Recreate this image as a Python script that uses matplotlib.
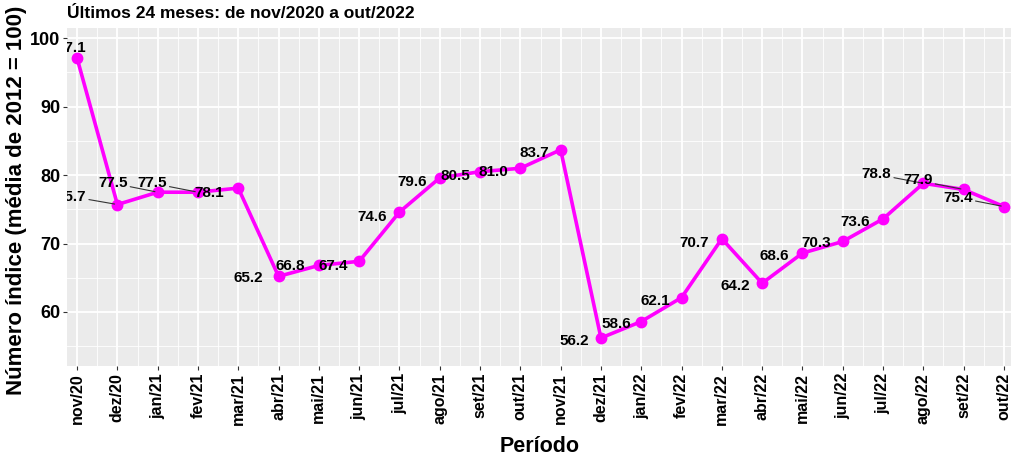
"""Número índice dos últimos 24 meses."""

import matplotlib

matplotlib.use("Agg")
from matplotlib import pyplot as plt  # noqa: E402
import numpy as np  # noqa: E402

periodos = [
    "nov/20", "dez/20", "jan/21", "fev/21", "mar/21", "abr/21", "mai/21", "jun/21",
    "jul/21", "ago/21", "set/21", "out/21", "nov/21", "dez/21", "jan/22", "fev/22",
    "mar/22", "abr/22", "mai/22", "jun/22", "jul/22", "ago/22", "set/22", "out/22",
]
indice = [
    97.1, 75.7, 77.5, 77.5, 78.1, 65.2, 66.8, 67.4, 74.6, 79.6, 80.5, 81.0,
    83.7, 56.2, 58.6, 62.1, 70.7, 64.2, 68.6, 70.3, 73.6, 78.8, 77.9, 75.4,
]
y_ticks = [60, 70, 80, 90, 100]

# label offsets (pixels, y up), mimicking ggrepel placement
label_dx = [-6, -46, -45, -46, -29, -30, -29, -26, -27, -28, -25, -27,
            -26, -27, -25, -26, -28, -27, -28, -27, -28, -47, -46, -46]
label_dy = [10, 8, 9, 9, -5, -2, -1, -5, -5, -4, -4, -4,
            -3, -3, -2, -3, -4, -3, -3, -2, -3, 9, 9, 9]
with_segment = {1, 2, 3, 21, 22, 23}

plt.rcParams["font.family"] = ["Liberation Sans", "DejaVu Sans"]
plt.rcParams["font.weight"] = "bold"

fig = plt.figure(figsize=(10.12, 4.57), dpi=100)
ax = fig.add_axes([67 / 1012, 1 - 366 / 457, 1 - 67 / 1012, (366 - 28) / 457])
ax.set_facecolor("#EBEBEB")
for side in ax.spines.values():
    side.set_visible(False)

x = np.arange(len(periodos))
ax.set_xlim(-0.25, len(periodos) - 1 + 0.2)
ax.set_ylim(52.1, 101.5)

ax.set_xticks(x)
ax.set_xticks(x[:-1] + 0.5, minor=True)
ax.set_yticks(y_ticks)
ax.set_yticks([55, 65, 75, 85, 95], minor=True)
ax.grid(which="major", color="white", linewidth=1.3)
ax.grid(which="minor", color="white", linewidth=0.6)
ax.set_axisbelow(True)

ax.set_xticklabels(periodos, rotation=90, fontsize=11.5, fontweight="bold", color="black")
ax.set_yticklabels([str(v) for v in y_ticks], fontsize=13, fontweight="bold", color="black")
ax.tick_params(which="major", length=3, color="#333333", width=0.8, pad=2)
ax.tick_params(which="minor", length=0)

ax.plot(x, indice, color="#FF00FF", linewidth=2.6, marker="o", markersize=7.5, zorder=3)

for i, v in enumerate(indice):
    arrow = None
    if i in with_segment:
        arrow = dict(arrowstyle="-", color="#333333", linewidth=0.8, shrinkA=0, shrinkB=2)
    ax.annotate(
        f"{v:.1f}", xy=(x[i], v), xytext=(label_dx[i], label_dy[i]),
        textcoords="offset pixels", ha="center", va="center",
        fontsize=11, fontweight="bold", color="black",
        arrowprops=arrow, zorder=4, annotation_clip=False, clip_on=True,
    )

fig.text(67 / 1012, 1 - 13 / 457, "Últimos 24 meses: de nov/2020 a out/2022",
         fontsize=12.5, fontweight="bold", ha="left", va="center")
fig.text(17 / 1012, 1 - 200 / 457, "Número índice (média de 2012 = 100)",
         fontsize=16, fontweight="bold", rotation=90, ha="center", va="center")
fig.text(540 / 1012, 1 - 447 / 457, "Período",
         fontsize=15.5, fontweight="bold", ha="center", va="center")

fig.savefig("out.png", dpi=100)
